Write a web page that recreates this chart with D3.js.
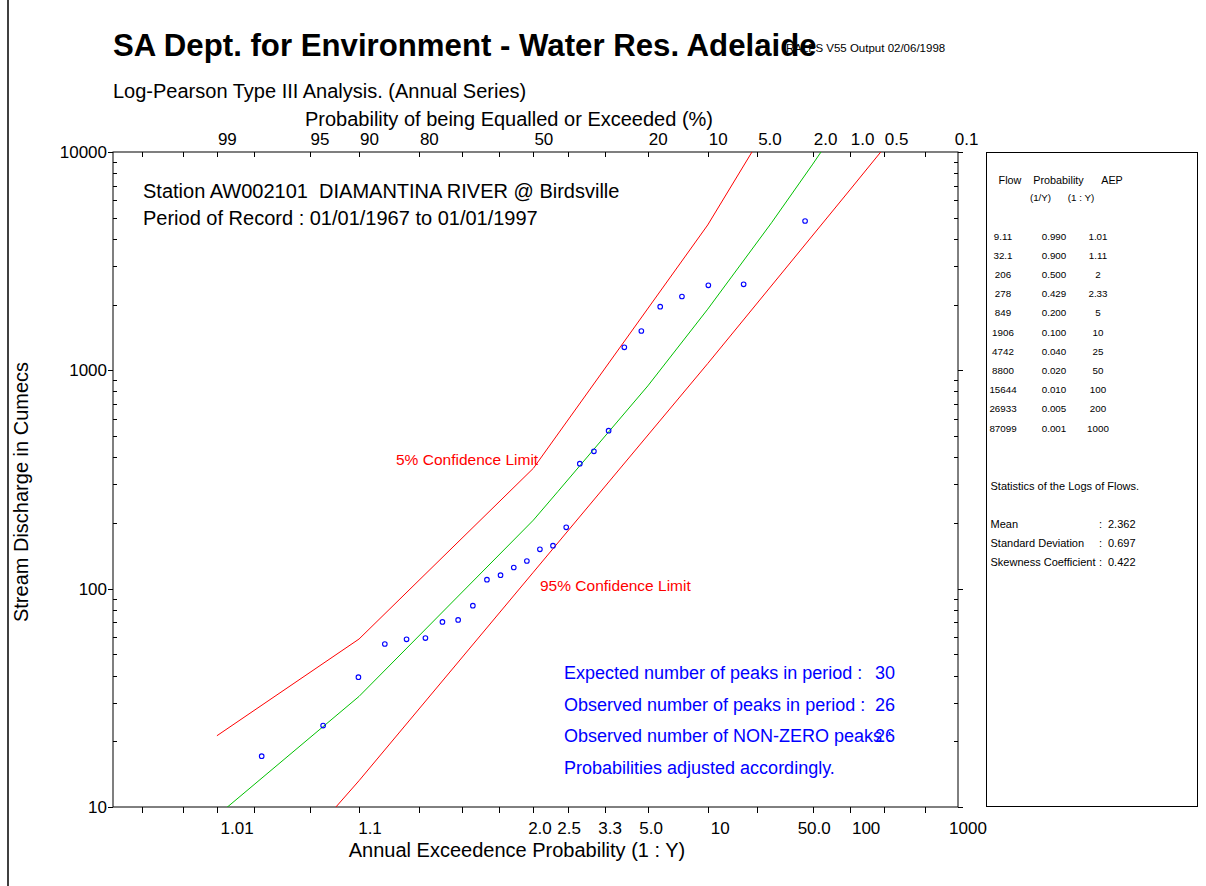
<!DOCTYPE html>
<html><head><meta charset="utf-8">
<script src="https://cdn.jsdelivr.net/npm/d3@7"></script>
<style>
html,body{margin:0;padding:0;background:#fff;}
svg{display:block;font-family:"Liberation Sans",Arial,sans-serif;}
</style></head>
<body>
<svg id="chart" width="1206" height="886"></svg>
<script>
// ---------------- DATA ----------------
// observed annual peaks (cumecs) and their plotted exceedance probability (%)
const obsFlow = [17.1, 23.6, 39.3, 55.8, 58.6, 59.4, 70.4, 71.9, 83.6, 109.9, 115.3, 125.0, 133.9,
                 151.4, 157.3, 191.0, 373.6, 425.8, 529.1, 1275, 1514, 1956, 2178, 2452, 2478, 4831];
const obsExc = [97.71, 93.89, 90.08, 86.26, 82.44, 78.63, 74.81, 70.99, 67.18, 63.36, 59.54, 55.73, 51.91,
                48.09, 44.27, 40.46, 36.64, 32.82, 29.01, 25.19, 21.37, 17.56, 13.74, 9.92, 6.11, 2.29];

// fitted LP3 quantiles (table in right panel)
const tableFlow = [9.11, 32.1, 206, 278, 849, 1906, 4742, 8800, 15644, 26933, 87099];
const tableProb = [0.990, 0.900, 0.500, 0.429, 0.200, 0.100, 0.040, 0.020, 0.010, 0.005, 0.001];
const tableAEP  = [1.01, 1.11, 2, 2.33, 5, 10, 25, 50, 100, 200, 1000];

// confidence limits (probability, flow)
const upperProb = [0.99, 0.90, 0.50, 0.10, 0.02];
const upperFlow = [21.2, 58.8, 356, 4632, 28800];
const lowerProb = [0.99, 0.90, 0.50, 0.10, 0.01, 0.005];
const lowerFlow = [2.4, 13.2, 119, 1074, 6700, 10400];

// axes
const topTicks  = [99.8, 99.5, 99, 98, 95, 90, 80, 70, 60, 50, 40, 30, 20, 10, 5, 2, 1, 0.5, 0.2];
const topLabels = ["99", "95", "90", "80", "50", "20", "10", "5.0", "2.0", "1.0", "0.5", "0.1"];
const topLabelPos = [99, 95, 90, 80, 50, 20, 10, 5, 2, 1, 0.5, 0.1];
const bottomLabels = ["1.01", "1.1", "2.0", "2.5", "3.3", "5.0", "10", "50.0", "100", "1000"];
const bottomLabelPos = [98.53, 88.51, 48.07, 39.62, 28.62, 19.33, 8.49, 1.95, 0.722, 0.07];
const yMajor = [10, 100, 1000, 10000];

const stats = [["Mean", "2.362"], ["Standard Deviation", "0.697"], ["Skewness Coefficient", "0.422"]];
const infoLines = [["Expected number of peaks in period :", "30"],
                   ["Observed number of peaks in period :", "26"],
                   ["Observed number of NON-ZERO peaks :", "26"],
                   ["Probabilities adjusted accordingly.", ""]];

// ---------------- HELPERS ----------------
function invNorm(p){
  const a=[-3.969683028665376e+01,2.209460984245205e+02,-2.759285104469687e+02,1.383577518672690e+02,-3.066479806614716e+01,2.506628277459239e+00];
  const b=[-5.447609879822406e+01,1.615858368580409e+02,-1.556989798598866e+02,6.680131188771972e+01,-1.328068155288572e+01];
  const c=[-7.784894002430293e-03,-3.223964580411365e-01,-2.400758277161838e+00,-2.549671010050486e+00,4.374664141464968e+00,2.938163982698783e+00];
  const d=[7.784695709041462e-03,3.224671290700398e-01,2.445134137142996e+00,3.754408661907416e+00];
  const pl=0.02425, ph=1-pl; let q,r;
  if(p<pl){q=Math.sqrt(-2*Math.log(p));return (((((c[0]*q+c[1])*q+c[2])*q+c[3])*q+c[4])*q+c[5])/((((d[0]*q+d[1])*q+d[2])*q+d[3])*q+1);}
  if(p>ph){q=Math.sqrt(-2*Math.log(1-p));return -(((((c[0]*q+c[1])*q+c[2])*q+c[3])*q+c[4])*q+c[5])/((((d[0]*q+d[1])*q+d[2])*q+d[3])*q+1);}
  q=p-0.5;r=q*q;return (((((a[0]*r+a[1])*r+a[2])*r+a[3])*r+a[4])*r+a[5])*q/(((((b[0]*r+b[1])*r+b[2])*r+b[3])*r+b[4])*r+1);
}
const zOf = pExc => invNorm(1 - pExc);   // exceedance fraction -> standard normal variate

// ---------------- LAYOUT ----------------
const L = 113, R = 958, T = 152, B = 807;
const svg = d3.select("#chart");
const x = d3.scaleLinear().domain([zOf(0.999), zOf(0.0009)]).range([L, R]);
const y = d3.scaleLog().domain([10, 10000]).range([B, T]);
const px = pExc => x(zOf(pExc));

// outer frame line (left)
svg.append("line").attr("x1",8).attr("x2",8).attr("y1",0).attr("y2",886).attr("stroke","#000").attr("stroke-width",1.5);

// title
svg.append("text").attr("x",786).attr("y",52).attr("font-size",11.5)
  .text("RALFS V55  Output 02/06/1998");
svg.append("text").attr("x",113).attr("y",56).attr("font-size",31.2).attr("font-weight","bold")
  .text("SA Dept. for Environment - Water Res. Adelaide");
svg.append("text").attr("x",113).attr("y",98).attr("font-size",20)
  .text("Log-Pearson Type III Analysis. (Annual Series)");

// clip
svg.append("clipPath").attr("id","clip").append("rect").attr("x",L).attr("y",T).attr("width",R-L).attr("height",B-T);

// axes frame
svg.append("rect").attr("x",L).attr("y",T).attr("width",R-L).attr("height",B-T)
  .attr("fill","none").attr("stroke","#000").attr("stroke-width",1);

// y axis (log)
const yTicksAll = y.ticks(30);
const gY = svg.append("g");
yTicksAll.forEach(v=>{
  const major = yMajor.includes(v);
  const yy = Math.round(y(v))+0.5;
  if(major){
    gY.append("line").attr("x1",L-5).attr("x2",L).attr("y1",yy).attr("y2",yy).attr("stroke","#000");
    gY.append("line").attr("x1",R).attr("x2",R+5).attr("y1",yy).attr("y2",yy).attr("stroke","#000");
  } else {
    gY.append("line").attr("x1",L).attr("x2",L+4).attr("y1",yy).attr("y2",yy).attr("stroke","#000");
    gY.append("line").attr("x1",R-4).attr("x2",R).attr("y1",yy).attr("y2",yy).attr("stroke","#000");
  }
});
yMajor.forEach(v=>{
  gY.append("text").attr("x",107).attr("y",y(v)).attr("dy","0.35em").attr("text-anchor","end")
    .attr("font-size",17).text(d3.format("d")(v));
});
svg.append("text").attr("transform","translate(28,492) rotate(-90)").attr("text-anchor","middle")
  .attr("font-size",20).text("Stream Discharge in Cumecs");

// top & bottom ticks
topTicks.forEach(t=>{
  const xx = Math.round(px(t/100))+0.5;
  svg.append("line").attr("x1",xx).attr("x2",xx).attr("y1",T).attr("y2",T+5).attr("stroke","#000");
  svg.append("line").attr("x1",xx).attr("x2",xx).attr("y1",B).attr("y2",B+6).attr("stroke","#000");
});
topLabels.forEach((s,i)=>{
  svg.append("text").attr("x",px(topLabelPos[i]/100)+1).attr("y",145).attr("font-size",17).text(s);
});
svg.append("text").attr("x",509).attr("y",126).attr("text-anchor","middle").attr("font-size",20)
  .text("Probability of being Equalled or Exceeded (%)");
bottomLabels.forEach((s,i)=>{
  svg.append("text").attr("x",px(bottomLabelPos[i]/100)).attr("y",834).attr("text-anchor","middle")
    .attr("font-size",17).text(s);
});
svg.append("text").attr("x",517).attr("y",857).attr("text-anchor","middle").attr("font-size",20)
  .text("Annual Exceedence Probability (1 : Y)");

// curves
const line = d3.line().x(d=>px(d[0])).y(d=>y(d[1]));
const plot = svg.append("g").attr("clip-path","url(#clip)");
plot.append("path").attr("d", line(upperProb.map((p,i)=>[p,upperFlow[i]])))
  .attr("fill","none").attr("stroke","#ff0000").attr("stroke-width",1);
plot.append("path").attr("d", line(lowerProb.map((p,i)=>[p,lowerFlow[i]])))
  .attr("fill","none").attr("stroke","#ff0000").attr("stroke-width",1);
plot.append("path").attr("d", line(tableProb.map((p,i)=>[p,tableFlow[i]])))
  .attr("fill","none").attr("stroke","#00c000").attr("stroke-width",1);

// points
plot.selectAll("circle.obs").data(obsFlow).join("circle").attr("class","obs")
  .attr("cx",(d,i)=>px(obsExc[i]/100)).attr("cy",d=>y(d)).attr("r",2.3)
  .attr("fill","none").attr("stroke","#0000ff").attr("stroke-width",1.1);

// station text
svg.append("text").attr("x",143).attr("y",198).attr("font-size",20)
  .text("Station AW002101\u00a0\u00a0DIAMANTINA RIVER @ Birdsville");
svg.append("text").attr("x",143).attr("y",225).attr("font-size",20)
  .text("Period of Record : 01/01/1967 to 01/01/1997");

// confidence labels
svg.append("text").attr("x",396).attr("y",465).attr("font-size",15.5).attr("fill","#ff0000").text("5% Confidence Limit");
svg.append("text").attr("x",540).attr("y",591).attr("font-size",15.5).attr("fill","#ff0000").text("95% Confidence Limit");

// info lines
infoLines.forEach((l,i)=>{
  const yy = 679 + i*31.6;
  svg.append("text").attr("x",564).attr("y",yy).attr("font-size",18).attr("fill","#0000ff").text(l[0]);
  if(l[1]) svg.append("text").attr("x",875).attr("y",yy).attr("font-size",18).attr("fill","#0000ff").text(l[1]);
});

// right panel
const P = svg.append("g");
P.append("rect").attr("x",986.5).attr("y",152.5).attr("width",211).attr("height",654)
  .attr("fill","none").attr("stroke","#000").attr("stroke-width",1);
const fs = 9.8, fh = 10.8, fst = 11;
P.append("text").attr("x",1010).attr("y",184).attr("text-anchor","middle").attr("font-size",fh).text("Flow");
P.append("text").attr("x",1058.5).attr("y",184).attr("text-anchor","middle").attr("font-size",fh).text("Probability");
P.append("text").attr("x",1112).attr("y",184).attr("text-anchor","middle").attr("font-size",fh).text("AEP");
P.append("text").attr("x",1040.5).attr("y",201).attr("text-anchor","middle").attr("font-size",fs).text("(1/Y)");
P.append("text").attr("x",1081).attr("y",201).attr("text-anchor","middle").attr("font-size",fs).text("(1 : Y)");
tableFlow.forEach((f,i)=>{
  const yy = 239.5 + i*19.2;
  P.append("text").attr("x",1003).attr("y",yy).attr("text-anchor","middle").attr("font-size",fs).text(String(f));
  P.append("text").attr("x",1054).attr("y",yy).attr("text-anchor","middle").attr("font-size",fs).text(tableProb[i].toFixed(3));
  P.append("text").attr("x",1098).attr("y",yy).attr("text-anchor","middle").attr("font-size",fs).text(String(tableAEP[i]));
});
P.append("text").attr("x",990.5).attr("y",490).attr("font-size",fst).text("Statistics of the Logs of Flows.");
stats.forEach((s,i)=>{
  const yy = 527.5 + i*19.2;
  P.append("text").attr("x",990.5).attr("y",yy).attr("font-size",fst).text(s[0]);
  P.append("text").attr("x",1099).attr("y",yy).attr("font-size",fst).text(":");
  P.append("text").attr("x",1108).attr("y",yy).attr("font-size",fst).text(s[1]);
});
</script>
</body></html>
